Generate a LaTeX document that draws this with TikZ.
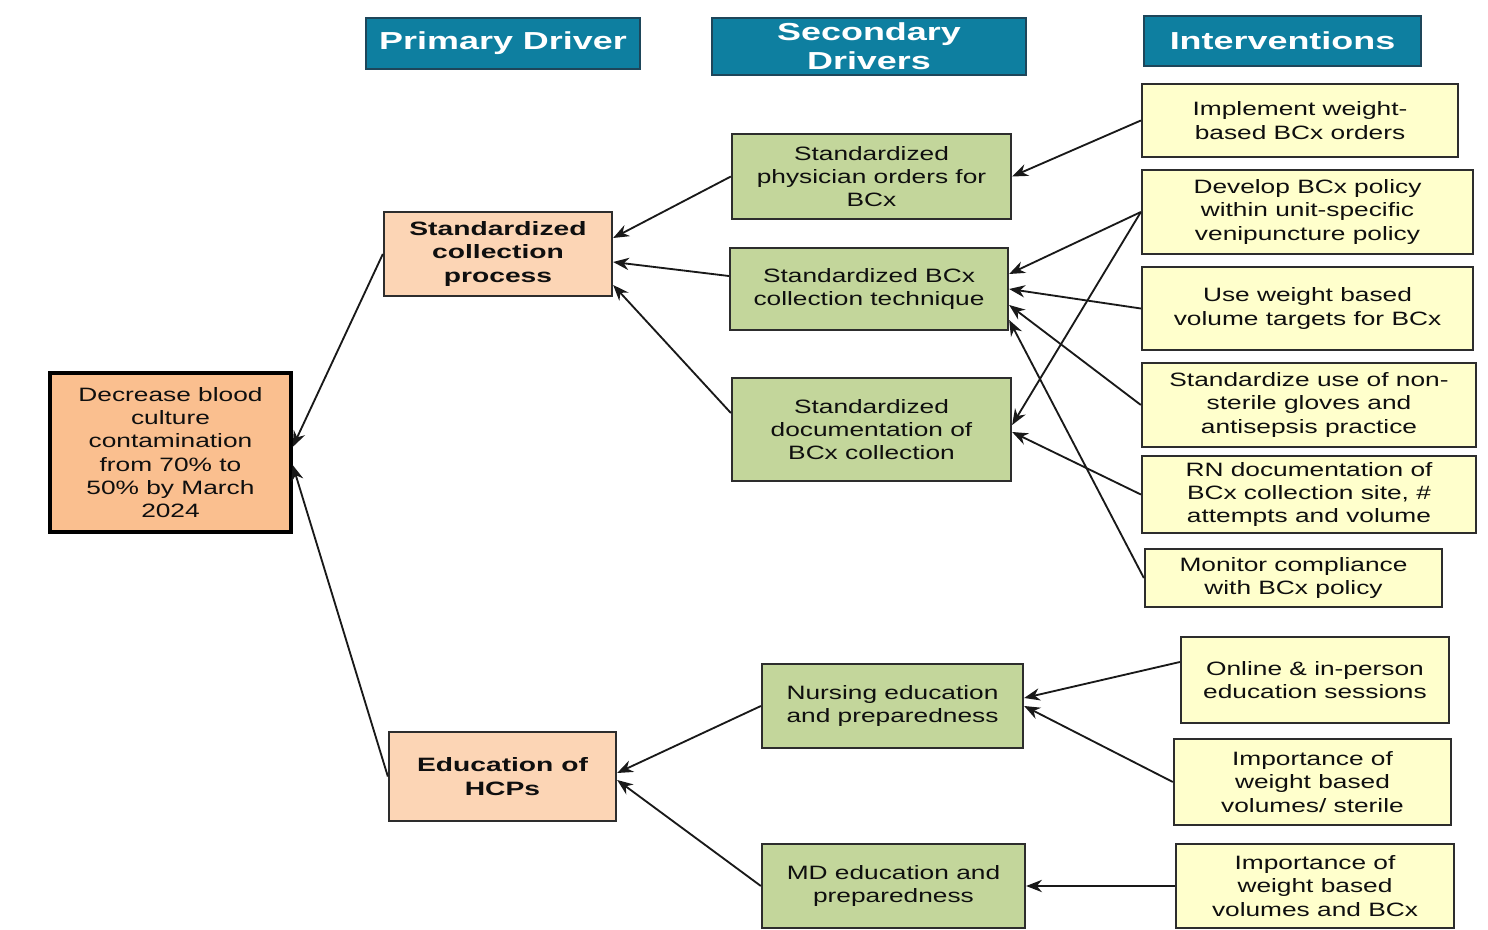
\documentclass[tikz,border=0pt]{standalone}
\usepackage{fontspec}
\setmainfont{Liberation Sans}[FakeStretch=1.36]
\newfontfamily\boldstretch{Liberation Sans}[FakeStretch=1.46]
\usetikzlibrary{arrows.meta}
\definecolor{hdrblue}{RGB}{14,127,160}
\definecolor{hdrline}{RGB}{30,70,90}
\definecolor{goalc}{RGB}{250,191,143}
\definecolor{primc}{RGB}{252,213,181}
\definecolor{secc}{RGB}{195,214,155}
\definecolor{intc}{RGB}{255,255,204}
\definecolor{boxline}{RGB}{45,45,45}
\definecolor{txt}{RGB}{15,15,15}
\tikzset{
 box/.style={draw=boxline, line width=1.3pt, align=center, inner sep=2pt, text=txt, font={\fontsize{11}{13.2}\selectfont}},
 hdrbox/.style={box, fill=hdrblue, draw=hdrline, text=white, font={\boldstretch\bfseries\fontsize{14}{16.5}\selectfont}},
 goalbox/.style={box, fill=goalc, draw=black, line width=1.9pt},
 pbox/.style={box, fill=primc, font={\boldstretch\bfseries\fontsize{11}{13.2}\selectfont}},
 sbox/.style={box, fill=secc},
 ibox/.style={box, fill=intc},
 arr/.style={-{Stealth[length=9pt,width=7pt]}, line width=1.05pt, draw=black!90}
}
\begin{document}
\begin{tikzpicture}
\useasboundingbox (0,0) rectangle (29.76,-18.6);
% headers
\node[hdrbox, minimum width=5.48cm, minimum height=1.02cm] (hp) at (10.06,-0.87) {Primary Driver};
\node[hdrbox, minimum width=6.28cm, minimum height=1.14cm] (hs) at (17.38,-0.93) {Secondary\\Drivers};
\node[hdrbox, minimum width=5.54cm, minimum height=1.00cm] (hi) at (25.65,-0.82) {Interventions};
% goal
\node[goalbox, minimum width=4.82cm, minimum height=3.18cm] (G) at (3.41,-9.05) {Decrease blood\\culture\\contamination\\from 70\% to\\50\% by March\\2024};
% primary drivers
\node[pbox, minimum width=4.56cm, minimum height=1.68cm] (P1) at (9.96,-5.08) {Standardized\\collection\\process};
\node[pbox, minimum width=4.54cm, minimum height=1.78cm] (P2) at (10.05,-15.53) {Education of\\HCPs};
% secondary drivers
\node[sbox, minimum width=5.58cm, minimum height=1.70cm] (S1) at (17.43,-3.53) {Standardized\\physician orders for\\BCx};
\node[sbox, minimum width=5.56cm, minimum height=1.64cm] (S2) at (17.38,-5.78) {Standardized BCx\\collection technique};
\node[sbox, minimum width=5.58cm, minimum height=2.06cm] (S3) at (17.43,-8.59) {Standardized\\documentation of\\BCx collection};
\node[sbox, minimum width=5.22cm, minimum height=1.68cm] (S4) at (17.85,-14.12) {Nursing education\\and preparedness};
\node[sbox, minimum width=5.26cm, minimum height=1.68cm] (S5) at (17.87,-17.72) {MD education and\\preparedness};
% interventions
\node[ibox, minimum width=6.32cm, minimum height=1.46cm] (I1) at (26.00,-2.41) {Implement weight-\\based BCx orders};
\node[ibox, minimum width=6.62cm, minimum height=1.68cm] (I2) at (26.15,-4.24) {Develop BCx policy\\within unit-specific\\venipuncture policy};
\node[ibox, minimum width=6.62cm, minimum height=1.66cm] (I3) at (26.15,-6.17) {Use weight based\\volume targets for BCx};
\node[ibox, minimum width=6.68cm, minimum height=1.68cm] (I4) at (26.18,-8.10) {Standardize use of non-\\sterile gloves and\\antisepsis practice};
\node[ibox, minimum width=6.68cm, minimum height=1.54cm] (I5) at (26.18,-9.89) {RN documentation of\\BCx collection site, \#\\attempts and volume};
\node[ibox, minimum width=5.94cm, minimum height=1.16cm] (I6) at (25.87,-11.56) {Monitor compliance\\with BCx policy};
\node[ibox, minimum width=5.36cm, minimum height=1.72cm] (I7) at (26.30,-13.60) {Online \& in-person\\education sessions};
\node[ibox, minimum width=5.54cm, minimum height=1.72cm] (I8) at (26.25,-15.64) {Importance of\\weight based\\volumes/ sterile};
\node[ibox, minimum width=5.56cm, minimum height=1.68cm] (I9) at (26.30,-17.72) {Importance of\\weight based\\volumes and BCx};
% connectors
\draw[arr] (P1.west) -- ([yshift=0.11cm]G.east);
\draw[arr] (P2.west) -- ([yshift=-0.25cm]G.east);
\draw[arr] (S1.west) -- ([yshift=0.32cm]P1.east);
\draw[arr] ([yshift=0.26cm]S2.west) -- ([yshift=-0.16cm]P1.east);
\draw[arr] ([yshift=0.33cm]S3.west) -- ([yshift=-0.62cm]P1.east);
\draw[arr] (S4.west) -- ([yshift=0.07cm]P2.east);
\draw[arr] (S5.west) -- ([yshift=-0.07cm]P2.east);
\draw[arr] (I1.west) -- (S1.east);
\draw[arr] (I2.west) -- ([yshift=0.30cm]S2.east);
\draw[arr] (I2.west) -- ([yshift=0.09cm]S3.east);
\draw[arr] (I3.west) -- (S2.east);
\draw[arr] (I4.west) -- ([yshift=-0.32cm]S2.east);
\draw[arr] (I5.west) -- ([yshift=-0.05cm]S3.east);
\draw[arr] (I6.west) -- ([yshift=-0.62cm]S2.east);
\draw[arr] ([yshift=0.36cm]I7.west) -- ([yshift=0.16cm]S4.east);
\draw[arr] (I8.west) -- (S4.east);
\draw[arr] (I9.west) -- (S5.east);
\end{tikzpicture}
\end{document}
